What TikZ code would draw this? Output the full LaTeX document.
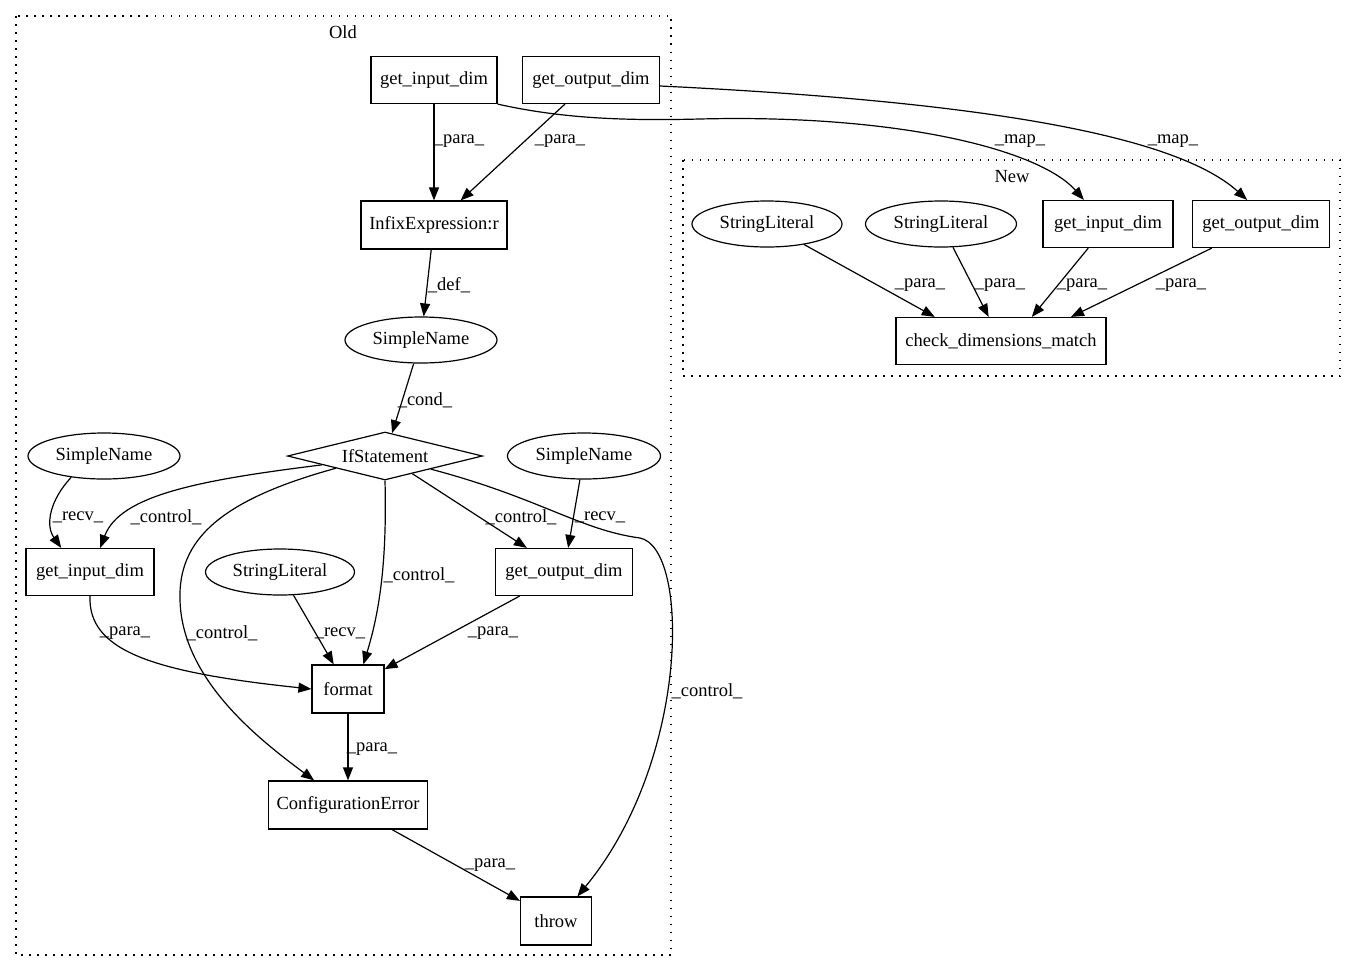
\documentclass[tikz,border=0pt]{standalone}
\usepackage{fontspec}
\setmainfont{Liberation Serif}
\usetikzlibrary{shapes.geometric, arrows.meta, positioning, calc}

\begin{document}
\begin{tikzpicture}[x=1pt, y=-1pt,
  font=\fontsize{18.5pt}{21pt}\selectfont,
  box/.style={draw, line width=1.2pt, rectangle, inner sep=0pt, minimum height=47pt},
  oval/.style={draw, line width=1.2pt, ellipse, inner sep=0pt, minimum width=152pt, minimum height=46pt},
  cond/.style={draw, line width=1.2pt, diamond, aspect=4, inner sep=0pt, minimum width=195pt, minimum height=48pt},
  lbl/.style={inner sep=0pt, yshift=-2pt},
  flow/.style={-{Triangle[length=13pt, width=10pt]}, line width=1.2pt},
  cluster/.style={line width=1.4pt, dash pattern=on 1.5pt off 6.5pt}]

\useasboundingbox (0,0) rectangle (1357,972);

% clusters
\draw[cluster] (16,16) rectangle (671,955);
\node[lbl] (oldlbl) at (343,30) {Old};
\draw[cluster] (683,160) rectangle (1340,376);
\node[lbl] (newlbl) at (1012,175) {New};

% old nodes
\node[box, minimum width=126pt] (oid) at (434,80) {get\_input\_dim};
\node[box, minimum width=137pt] (ood) at (591,80) {get\_output\_dim};
\node[box, minimum width=146pt, minimum height=48pt] (infix) at (434,225) {InfixExpression:r};
\node[oval] (sn1) at (421,340) {SimpleName};
\node[cond] (ifs) at (385,456) {IfStatement};
\node[oval] (sn2) at (104,456) {SimpleName};
\node[oval, minimum width=153pt] (sn3) at (584,456) {SimpleName};
\node[box, minimum width=128pt] (gid) at (90,572) {get\_input\_dim};
\node[oval, minimum width=149pt] (sl1) at (280,572) {StringLiteral};
\node[box, minimum width=137pt] (god) at (564,572) {get\_output\_dim};
\node[box, minimum width=72pt, minimum height=48pt] (fmt) at (348,689) {format};
\node[box, minimum width=159pt, minimum height=48pt] (cfg) at (348,805) {ConfigurationError};
\node[box, minimum width=71pt, minimum height=48pt] (thr) at (556,921) {throw};

% new nodes
\node[oval, minimum width=150pt] (sl2) at (767,224) {StringLiteral};
\node[oval, minimum width=151pt] (sl3) at (941,224) {StringLiteral};
\node[box, minimum width=130pt] (nid) at (1108,224) {get\_input\_dim};
\node[box, minimum width=137pt] (nod) at (1261,224) {get\_output\_dim};
\node[box, minimum width=210pt] (cdm) at (1001,341) {check\_dimensions\_match};

% old edges
\draw[flow] (oid) -- (infix);
\node[lbl] (l1) at (459,139) {\_para\_};
\draw[flow] (ood) -- (infix);
\node[lbl] (l2) at (560,139) {\_para\_};
\draw[flow] (infix) -- (sn1);
\node[lbl] (l3) at (449,283) {\_def\_};
\draw[flow] (sn1) -- (ifs);
\node[lbl] (l4) at (425,398) {\_cond\_};
\draw[flow] (sn2.-147) .. controls (50,500) and (45,525) .. (gid.140);
\node[lbl] (l5) at (78,515) {\_recv\_};
\draw[flow] (ifs.188) .. controls (200,480) and (120,495) .. (gid.67);
\node[lbl] (l6) at (166,515) {\_control\_};
\draw[flow] (ifs) -- (god);
\node[lbl] (l7) at (521,515) {\_control\_};
\draw[flow] (sn3) -- (god);
\node[lbl] (l8) at (600,515) {\_recv\_};
\draw[flow] (ifs.south) .. controls (387,560) and (380,610) .. (fmt.58);
\node[lbl] (l9) at (419,573) {\_control\_};
\draw[flow] (sl1) -- (fmt);
\node[lbl] (l10) at (340,631) {\_recv\_};
\draw[flow] (gid.south) .. controls (88,650) and (150,672) .. (fmt.west);
\node[lbl] (l11) at (125,631) {\_para\_};
\draw[flow] (ifs.194) .. controls (220,500) and (178,540) .. (180,600)
  .. controls (182,680) and (260,740) .. (cfg.144);
\node[lbl] (l12) at (222,631) {\_control\_};
\draw[flow] (god) -- (fmt);
\node[lbl] (l13) at (493,631) {\_para\_};
\draw[flow] (ifs.-16) .. controls (540,498) and (580,530) .. (640,538)
  .. controls (690,548) and (690,760) .. (thr.49);
\node[lbl] (l14) at (707,689) {\_control\_};
\draw[flow] (fmt) -- (cfg);
\node[lbl] (l15) at (372,747) {\_para\_};
\draw[flow] (cfg) -- (thr);
\node[lbl] (l16) at (490,863) {\_para\_};

% mapping edges
\draw[flow] (oid.south east) .. controls (560,118) and (620,121) .. (700,119)
  .. controls (900,114) and (1040,150) .. (nid.135);
\node[lbl] (l17) at (1020,139) {\_map\_};
\draw[flow] (ood.east) ++(0,6) .. controls (950,100) and (1170,130) .. (nod.120);
\node[lbl] (l18) at (1173,139) {\_map\_};

% new edges
\draw[flow] (sl2) -- (cdm.160);
\node[lbl] (l19) at (920,283) {\_para\_};
\draw[flow] (sl3) -- (cdm);
\node[lbl] (l20) at (1000,283) {\_para\_};
\draw[flow] (nid) -- (cdm.38);
\node[lbl] (l21) at (1082,283) {\_para\_};
\draw[flow] (nod) -- (cdm.19);
\node[lbl] (l22) at (1181,283) {\_para\_};
\end{tikzpicture}
\end{document}
